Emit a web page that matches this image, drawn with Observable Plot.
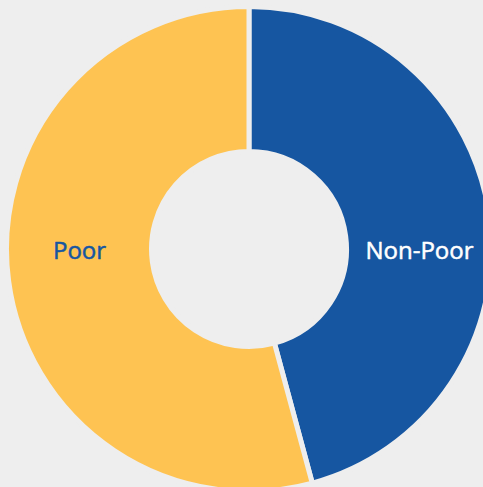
<!DOCTYPE html>
<html>
<head>
<meta charset="utf-8">
<script src="https://cdn.jsdelivr.net/npm/d3@7"></script>
<script src="https://cdn.jsdelivr.net/npm/@observablehq/plot@0.6"></script>
<style>
  html, body { margin: 0; padding: 0; background: #eeeeee; }
  #chart { width: 483px; height: 487px; overflow: hidden; }
</style>
</head>
<body>
<div id="chart"></div>
<script>
const categories = ["Non-Poor", "Poor"];
const shares = [45.8, 54.2];
const sliceColors = ["#1656a1", "#fec352"];
const labelColors = ["#ffffff", "#1656a1"];

const W = 483, H = 487;
const cx = 249, cy = 249, outerPx = 240, innerPx = 100, gap = 5;
const innerRatio = innerPx / outerPx;

const pie = d3.pie().sort(null).value(d => d.share);
const rows = categories.map((c, i) => ({category: c, share: shares[i], color: sliceColors[i], labelColor: labelColors[i]}));
const arcs = pie(rows).map(a => {
  const mid = (a.startAngle + a.endAngle) / 2;
  const rMid = (1 + innerRatio) / 2;
  return {...a.data, startAngle: a.startAngle, endAngle: a.endAngle,
          lx: Math.sign(Math.sin(mid)) * rMid, ly: 0, cx0: 0, cy0: 0};
});

const slices = Plot.dot(arcs, {
  x: "cx0", y: "cy0",
  render(index, scales, values, dimensions, context) {
    const g = d3.create("svg:g");
    const unit = Math.abs(scales.x(1) - scales.x(0));
    const arcGen = d3.arc()
      .innerRadius(innerRatio * unit - gap / 2)
      .outerRadius(unit + gap / 2);
    for (const i of index) {
      g.append("path")
        .attr("transform", `translate(${values.x[i]},${values.y[i]})`)
        .attr("d", arcGen({startAngle: arcs[i].startAngle, endAngle: arcs[i].endAngle}))
        .attr("fill", arcs[i].color)
        .attr("stroke", "#eeeeee")
        .attr("stroke-width", gap)
        .attr("stroke-linejoin", "miter");
    }
    return g.node();
  }
});

const chart = Plot.plot({
  width: W, height: H,
  margin: 0,
  style: {background: "#eeeeee", fontFamily: "'Open Sans', sans-serif"},
  x: {domain: [-cx / outerPx, (W - cx) / outerPx], axis: null},
  y: {domain: [-(H - cy) / outerPx, cy / outerPx], axis: null},
  marks: [
    slices,
    Plot.text(arcs, {
      x: "lx", y: "ly", text: "category",
      fill: "labelColor", stroke: "labelColor", strokeWidth: 0.5,
      fontSize: 24, fontWeight: 400, dy: 2,
      fontFamily: "'Open Sans', sans-serif"
    })
  ]
});
document.getElementById("chart").append(chart);
</script>
</body>
</html>
